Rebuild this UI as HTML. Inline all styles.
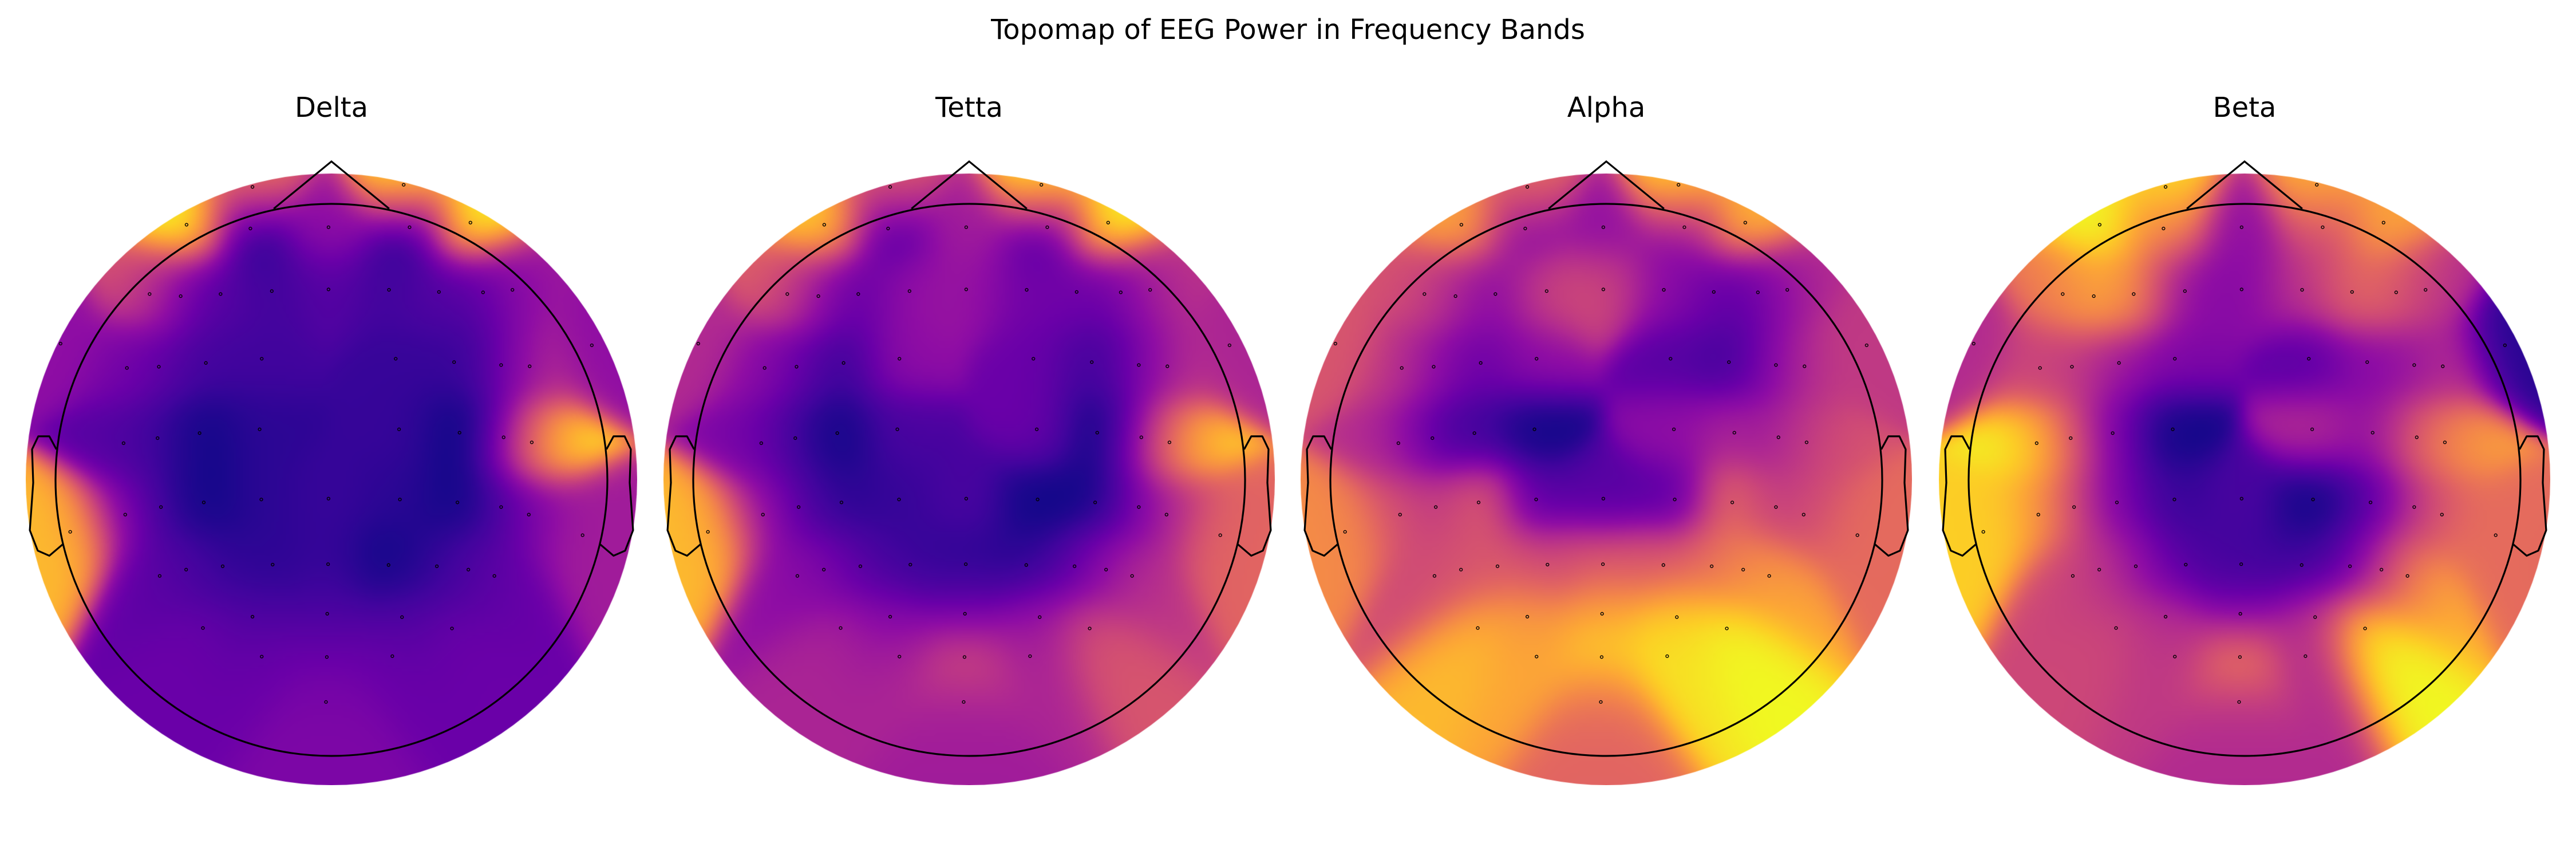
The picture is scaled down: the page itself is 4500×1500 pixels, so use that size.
<!DOCTYPE html>
<html><head><meta charset="utf-8">
<style>
html,body{margin:0;padding:0;background:#fff;}
#root{position:relative;width:4500px;height:1500px;overflow:hidden;background:#fff;font-family:"DejaVu Sans","Liberation Sans",sans-serif;}
canvas{position:absolute;}
svg{position:absolute;left:0;top:0;}
</style></head>
<body>
<div id="root">
<svg id="ov" width="4500" height="1500">
<text x="2250" y="68" font-size="48" text-anchor="middle" font-family="DejaVu Sans, Liberation Sans, sans-serif">Topomap of EEG Power in Frequency Bands</text>
</svg>
</div>
<script>
// electrode positions (reference zoom pixels, center 790,800, head radius 657)
const elecX=[602,962,445,597,783,976,1121,357,431,526,648,783,927,1046,1151,1221,145,1410,303,379,491,624,943,1082,1194,1262,295,376,476,619,951,1095,1200,1267,168,1388,299,384,486,623,783,953,1090,1194,1260,381,444,531,650,782,926,1041,1116,1178,602,780,958,484,1077,624,779,935,777];
const elecY=[104,99,194,203,200,200,189,359,364,359,352,348,349,354,355,349,477,481,535,532,523,513,513,521,528,531,714,702,690,681,681,689,700,712,925,933,884,866,855,848,846,848,855,866,884,1030,1015,1007,1003,1002,1004,1007,1015,1030,1127,1120,1128,1154,1155,1222,1223,1221,1330];
const bandNames=["Delta","Tetta","Alpha","Beta"];
const deltaVals=[0.7,1.0,1.0,0.0,0.3,0.0,1.0,0.55,0.15,0.15,0.1,0.15,0.1,0.15,0.1,0.35,0.3,0.3,0.25,0.15,0.1,0.1,0.08,0.08,0.1,0.45,0.15,0.08,0.0,0.06,0.08,0.0,0.0,1.0,0.85,0.35,0.3,0.06,0.0,0.06,0.08,0.06,0.0,0.06,0.3,0.18,0.12,0.06,0.06,0.08,0.0,0.06,0.12,0.2,0.12,0.12,0.12,0.2,0.2,0.2,0.2,0.2,0.25];
const tettaVals=[0.6,1.0,0.9,0.1,0.35,0.1,1.0,0.6,0.22,0.18,0.32,0.32,0.22,0.22,0.15,0.45,0.4,0.38,0.32,0.15,0.08,0.3,0.2,0.1,0.15,0.45,0.25,0.06,0.0,0.12,0.2,0.0,0.1,0.95,0.85,0.6,0.38,0.12,0.05,0.08,0.12,0.0,0.0,0.18,0.45,0.3,0.25,0.12,0.08,0.06,0.05,0.12,0.3,0.45,0.25,0.2,0.3,0.38,0.55,0.38,0.55,0.38,0.35];
const alphaVals=[0.65,0.95,0.8,0.25,0.3,0.28,0.85,0.55,0.32,0.28,0.5,0.5,0.3,0.2,0.12,0.42,0.55,0.45,0.48,0.25,0.2,0.3,0.15,0.1,0.22,0.48,0.42,0.1,0.1,0.0,0.3,0.38,0.3,0.55,0.72,0.62,0.55,0.42,0.6,0.15,0.15,0.15,0.65,0.4,0.55,0.5,0.55,0.55,0.5,0.55,0.55,0.6,0.7,0.8,0.75,0.8,0.9,0.85,1.0,0.8,0.92,0.95,0.6];
const betaVals=[0.95,0.85,1.0,0.65,0.3,0.5,0.8,0.65,0.85,0.7,0.28,0.28,0.42,0.6,0.62,0.4,0.4,0.05,0.5,0.45,0.32,0.25,0.15,0.28,0.28,0.45,1.0,0.5,0.2,0.0,0.4,0.3,0.5,0.8,0.9,0.62,0.85,0.45,0.22,0.08,0.12,0.0,0.12,0.35,0.65,0.5,0.45,0.28,0.12,0.1,0.08,0.12,0.35,0.85,0.4,0.22,0.4,0.5,1.0,0.45,0.75,0.4,0.4];
const bandVals=[deltaVals,tettaVals,alphaVals,betaVals];

const centersX=[579,1693,2806,3921], CY=837, HR=482, OR=534;
const plasma=[[13,8,135],[65,4,157],[106,0,168],[143,13,164],[177,42,144],[204,71,120],[225,100,98],[242,132,75],[252,166,54],[252,206,37],[240,249,33]];
function cmap(v){v=Math.max(0,Math.min(1,v));const f=v*10,i=Math.min(9,Math.floor(f)),t=f-i;const a=plasma[i],b=plasma[i+1];return [a[0]+(b[0]-a[0])*t,a[1]+(b[1]-a[1])*t,a[2]+(b[2]-a[2])*t];}
const root=document.getElementById('root');
const ov=document.getElementById('ov');
const NS='http://www.w3.org/2000/svg';
const ex=elecX.map(x=>(x-790)/657), ey=elecY.map(y=>(y-800)/657);
const ext=OR/HR, N=200, sig=0.105, K=0.9886;

bandNames.forEach((name,m)=>{
  const vals=bandVals[m], cx=centersX[m];
  const small=document.createElement('canvas');small.width=N;small.height=N;
  const sc=small.getContext('2d');const img=sc.createImageData(N,N);
  for(let j=0;j<N;j++)for(let i=0;i<N;i++){
    const x=-ext+(i+0.5)/N*2*ext, y=-ext+(j+0.5)/N*2*ext;
    let ws=0,vs=0;
    for(let k=0;k<ex.length;k++){const dx=x-ex[k],dy=y-ey[k];const w=Math.exp(-(dx*dx+dy*dy)/(2*sig*sig))+1e-30;ws+=w;vs+=w*vals[k];}
    const c=cmap(vs/ws);const p=(j*N+i)*4;img.data[p]=c[0];img.data[p+1]=c[1];img.data[p+2]=c[2];img.data[p+3]=255;
  }
  sc.putImageData(img,0,0);
  const cv=document.createElement('canvas');cv.width=2*OR;cv.height=2*OR;
  cv.style.left=(cx-OR)+'px';cv.style.top=(CY-OR)+'px';
  
  
  const ctx=cv.getContext('2d');ctx.imageSmoothingEnabled=true;ctx.imageSmoothingQuality='high';
  ctx.beginPath();ctx.arc(OR,OR,OR,0,2*Math.PI);ctx.clip();
  ctx.drawImage(small,0,0,2*OR,2*OR);
  root.insertBefore(cv,ov);

  const g=document.createElementNS(NS,'g');
  
  
  ov.appendChild(g);
  const t=document.createElementNS(NS,'text');
  t.setAttribute('x',cx);t.setAttribute('y',204);t.setAttribute('font-size','48');t.setAttribute('text-anchor','middle');
  t.setAttribute('font-family','DejaVu Sans, Liberation Sans, sans-serif');
  t.textContent=name;
  
  
  ov.appendChild(t);
  const head=document.createElementNS(NS,'circle');
  head.setAttribute('cx',cx);head.setAttribute('cy',CY+1);head.setAttribute('r',HR);
  head.setAttribute('fill','none');head.setAttribute('stroke','#000');head.setAttribute('stroke-width','3.2');
  
  
  g.appendChild(head);
  const nose=document.createElementNS(NS,'polyline');
  nose.setAttribute('points',`${cx-102*K},${CY-478*K} ${cx},${CY-561.5*K} ${cx+102*K},${CY-478*K}`);
  nose.setAttribute('fill','none');nose.setAttribute('stroke','#000');nose.setAttribute('stroke-width','3.2');
  
  
  g.appendChild(nose);
  const earPts=[[-486,-53],[-498.5,-76],[-518,-76],[-529,-53],[-527,6],[-533,90],[-519,126],[-498.5,135],[-475,115]];
  [-1,1].forEach(s=>{
    const e=document.createElementNS(NS,'polyline');
    e.setAttribute('points',earPts.map(p=>`${cx-s*p[0]*K},${CY+p[1]*K}`).join(' '));
    e.setAttribute('fill','none');e.setAttribute('stroke','#000');e.setAttribute('stroke-width','3.2');e.setAttribute('stroke-linejoin','round');
    
    
    g.appendChild(e);
  });
  for(let k=0;k<ex.length;k++){
    const d=document.createElementNS(NS,'circle');
    d.setAttribute('cx',cx+ex[k]*HR);d.setAttribute('cy',CY+ey[k]*HR);d.setAttribute('r','2.4');
    d.setAttribute('fill','none');d.setAttribute('stroke','#000');d.setAttribute('stroke-width','1.4');
    
    
    g.appendChild(d);
  }
});
</script>
</body></html>
